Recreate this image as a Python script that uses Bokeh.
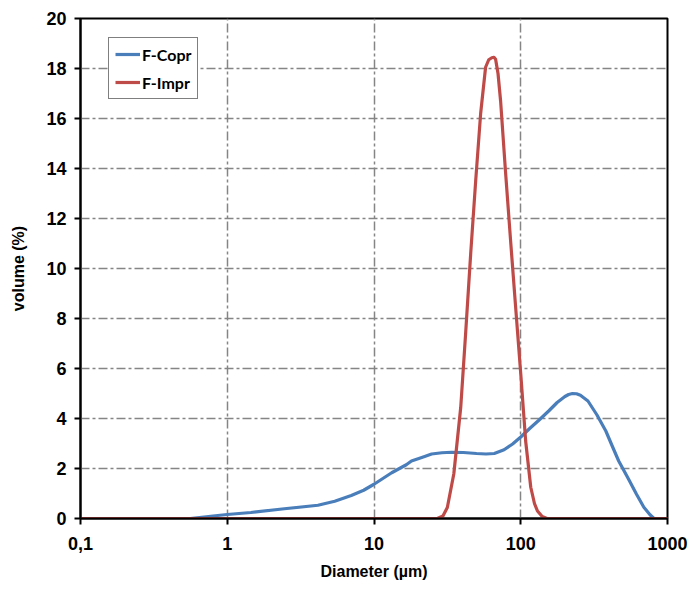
from bokeh.plotting import figure
from bokeh.models import FixedTicker, Legend, LegendItem
from bokeh.embed import file_html
from bokeh.resources import INLINE

# F-Copr (blue) particle size distribution
copr_d = [0.1, 0.3, 0.56, 0.8, 1.0, 1.45, 2.45, 4.15, 5.4, 7.0, 8.5, 10.0, 13.2, 16.6, 18.0,
          21.9, 24.7, 29.0, 33.8, 40.7, 50.0, 58.0, 66.0, 77.0, 88.0, 100.0, 115.0, 134.0,
          155.0, 177.0, 200.0, 212.0, 225.0, 240.0, 255.0, 287.0, 330.0, 380.0, 420.0, 465.0,
          540.0, 615.0, 690.0, 760.0, 810.0, 1000.0]
copr_v = [0.0, 0.0, 0.0, 0.1, 0.16, 0.24, 0.39, 0.53, 0.69, 0.92, 1.13, 1.37, 1.83, 2.15, 2.3,
          2.47, 2.58, 2.63, 2.65, 2.64, 2.6, 2.58, 2.6, 2.75, 2.98, 3.26, 3.6, 3.95,
          4.3, 4.64, 4.88, 4.96, 5.0, 4.99, 4.93, 4.7, 4.15, 3.5, 2.9, 2.3,
          1.6, 0.97, 0.45, 0.15, 0.0, 0.0]

# F-Impr (red) particle size distribution
impr_d = [0.1, 10.0, 27.0, 29.5, 31.6, 35.0, 39.0, 42.1, 45.6, 49.3, 53.3, 57.6, 60.5, 63.5,
          65.7, 67.4, 70.0, 72.9, 78.9, 85.3, 92.3, 100.0, 108.0, 117.0, 124.0, 130.0, 140.0,
          151.0, 1000.0]
impr_v = [0.0, 0.0, 0.0, 0.1, 0.44, 1.79, 4.45, 7.39, 10.6, 13.5, 16.2, 18.05, 18.35, 18.43,
          18.45, 18.37, 17.8, 16.7, 13.8, 11.1, 8.45, 5.79, 3.1, 1.25, 0.6, 0.3, 0.08,
          0.0, 0.0]

x_ticks = [0.1, 1, 10, 100, 1000]
x_labels = ["0,1", "1", "10", "100", "1000"]
y_ticks = list(range(0, 21, 2))

AXIS_FONT = "Liberation Sans"

p = figure(width=690, height=592, x_axis_type="log", x_range=(0.1, 1000), y_range=(0, 20),
           output_backend="svg", toolbar_location=None,
           min_border_left=80, min_border_right=23, min_border_top=18, min_border_bottom=74)
p.background_fill_color = "white"
p.border_fill_color = "white"
p.outline_line_color = "black"
p.outline_line_width = 2

for ax in (p.xaxis[0], p.yaxis[0]):
    ax.axis_line_color = "black"
    ax.axis_line_width = 2
    ax.major_tick_line_color = "black"
    ax.major_tick_line_width = 2
    ax.major_tick_in = 0
    ax.major_tick_out = 6
    ax.minor_tick_line_color = None
    ax.major_label_text_font = AXIS_FONT
    ax.major_label_text_font_style = "bold"
    ax.major_label_text_font_size = "18px"
    ax.major_label_text_color = "black"
    ax.axis_label_text_font = AXIS_FONT
    ax.axis_label_text_font_style = "bold"
    ax.axis_label_text_font_size = "16px"
    ax.axis_label_text_color = "black"

p.xaxis.ticker = FixedTicker(ticks=x_ticks)
p.xaxis.major_label_overrides = {t: l for t, l in zip(x_ticks, x_labels)}
p.xaxis.major_label_standoff = 12
p.xaxis.axis_label = "Diameter (µm)"
p.xaxis.axis_label_standoff = 10

p.yaxis.ticker = FixedTicker(ticks=y_ticks)
p.yaxis.major_label_standoff = 8
p.yaxis.axis_label = "volume (%)"
p.yaxis.axis_label_standoff = 16

for g in (p.xgrid[0], p.ygrid[0]):
    g.grid_line_color = "#858585"
    g.grid_line_width = 1.5
    g.grid_line_dash = "9 3 3 3"
p.xgrid.ticker = FixedTicker(ticks=x_ticks)
p.ygrid.ticker = FixedTicker(ticks=y_ticks)

r1 = p.line(copr_d, copr_v, line_color="#4a7ebb", line_width=3.2, line_join="round")
r2 = p.line(impr_d, impr_v, line_color="#be4b48", line_width=3.2, line_join="round")

legend = Legend(items=[LegendItem(label="F-Copr", renderers=[r1]),
                       LegendItem(label="F-Impr", renderers=[r2])],
                location=(28, 419))
legend.label_text_font = "Lato"
legend.label_text_font_style = "bold"
legend.label_text_font_size = "16px"
legend.label_text_color = "black"
legend.border_line_color = "black"
legend.border_line_width = 1.5
legend.glyph_width = 25
legend.glyph_height = 20
legend.label_standoff = 2
legend.spacing = 8
legend.padding = 6
legend.margin = 0
legend.background_fill_alpha = 1
p.add_layout(legend, "center")

open("out.html", "w").write(file_html(p, INLINE))
